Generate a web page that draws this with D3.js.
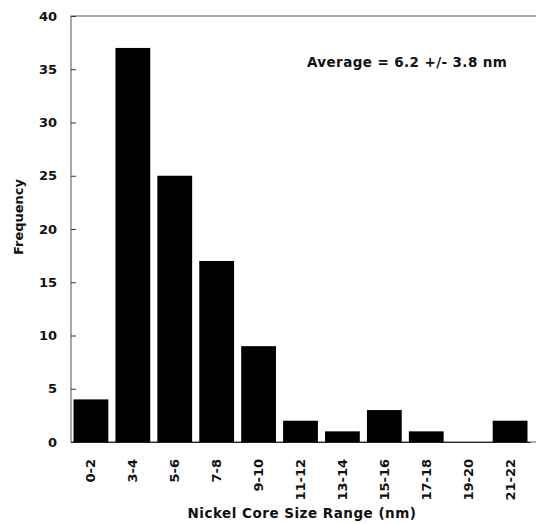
<!DOCTYPE html>
<html>
<head>
<meta charset="utf-8">
<script src="https://cdn.jsdelivr.net/npm/d3@7"></script>
<style>
  body { margin: 0; background: #fff; }
  svg text { font-family: "DejaVu Sans", Verdana, sans-serif; font-weight: bold; fill: #111; }
</style>
</head>
<body>
<div id="chart"></div>
<script>
// size ranges and counts
var categories = ["0-2", "3-4", "5-6", "7-8", "9-10", "11-12", "13-14", "15-16", "17-18", "19-20", "21-22"];
var counts = [4, 37, 25, 17, 9, 2, 1, 3, 1, 0, 2];
var yTicks = [0, 5, 10, 15, 20, 25, 30, 35, 40];
var note = "Average = 6.2 +/- 3.8 nm";

var data = categories.map(function (c, i) { return { name: c, value: counts[i] }; });

var margin = { top: 16, right: 1, bottom: 82, left: 71 };
var width = 536 - margin.left - margin.right,
    height = 524 - margin.top - margin.bottom;

var svg = d3.select("#chart").append("svg")
    .attr("width", 536)
    .attr("height", 524)
  .append("g")
    .attr("transform", "translate(" + margin.left + "," + margin.top + ")");

var x = d3.scaleBand()
    .range([0, 459])
    .paddingInner(0.17)
    .paddingOuter(0.06)
    .domain(categories);

var y = d3.scaleLinear()
    .range([height, 0])
    .domain([0, 40]);

// frame
svg.append("rect")
    .attr("x", 0).attr("y", 0)
    .attr("width", width + 2).attr("height", height)
    .attr("fill", "none")
    .attr("stroke", "#555")
    .attr("stroke-width", 1);

// y axis with short inward ticks
var yAxis = d3.axisLeft(y).tickValues(yTicks).tickSize(-5).tickPadding(14);
svg.append("g")
    .attr("class", "y-axis")
    .call(yAxis)
    .call(function (g) { g.select(".domain").remove(); })
    .call(function (g) { g.selectAll("line").attr("stroke", "#333"); })
    .call(function (g) { g.selectAll("text").style("font-size", "13px"); });

// bars
svg.selectAll(".bar")
    .data(data)
    .enter()
    .append("rect")
    .attr("class", "bar")
    .attr("x", function (d) { return x(d.name); })
    .attr("width", x.bandwidth())
    .attr("y", function (d) { return y(d.value); })
    .attr("height", function (d) { return height - y(d.value); })
    .attr("fill", "#000");

// x axis, labels rotated
var xAxis = d3.axisBottom(x).tickSize(0).tickPadding(0);
svg.append("g")
    .attr("class", "x-axis")
    .attr("transform", "translate(0," + height + ")")
    .call(xAxis)
    .call(function (g) { g.select(".domain").attr("stroke", "#222"); })
    .selectAll("text")
    .style("font-size", "13px")
    .attr("text-anchor", "end")
    .attr("dy", null)
    .attr("transform", "rotate(-90)")
    .attr("x", -17)
    .attr("y", 0)
    .attr("dominant-baseline", "central");

// axis titles
svg.append("text")
    .attr("transform", "rotate(-90)")
    .attr("x", -height / 2 + 12)
    .attr("y", -48)
    .attr("text-anchor", "middle")
    .style("font-size", "13px")
    .text("Frequency");

svg.append("text")
    .attr("x", 231)
    .attr("y", 502)
    .attr("text-anchor", "middle")
    .style("font-size", "13.5px")
    .style("letter-spacing", "0.5px")
    .text("Nickel Core Size Range (nm)");

// average annotation
svg.append("text")
    .attr("x", 236)
    .attr("y", 51)
    .style("font-size", "13.5px")
    .style("letter-spacing", "0.4px")
    .text(note);
</script>
</body>
</html>
